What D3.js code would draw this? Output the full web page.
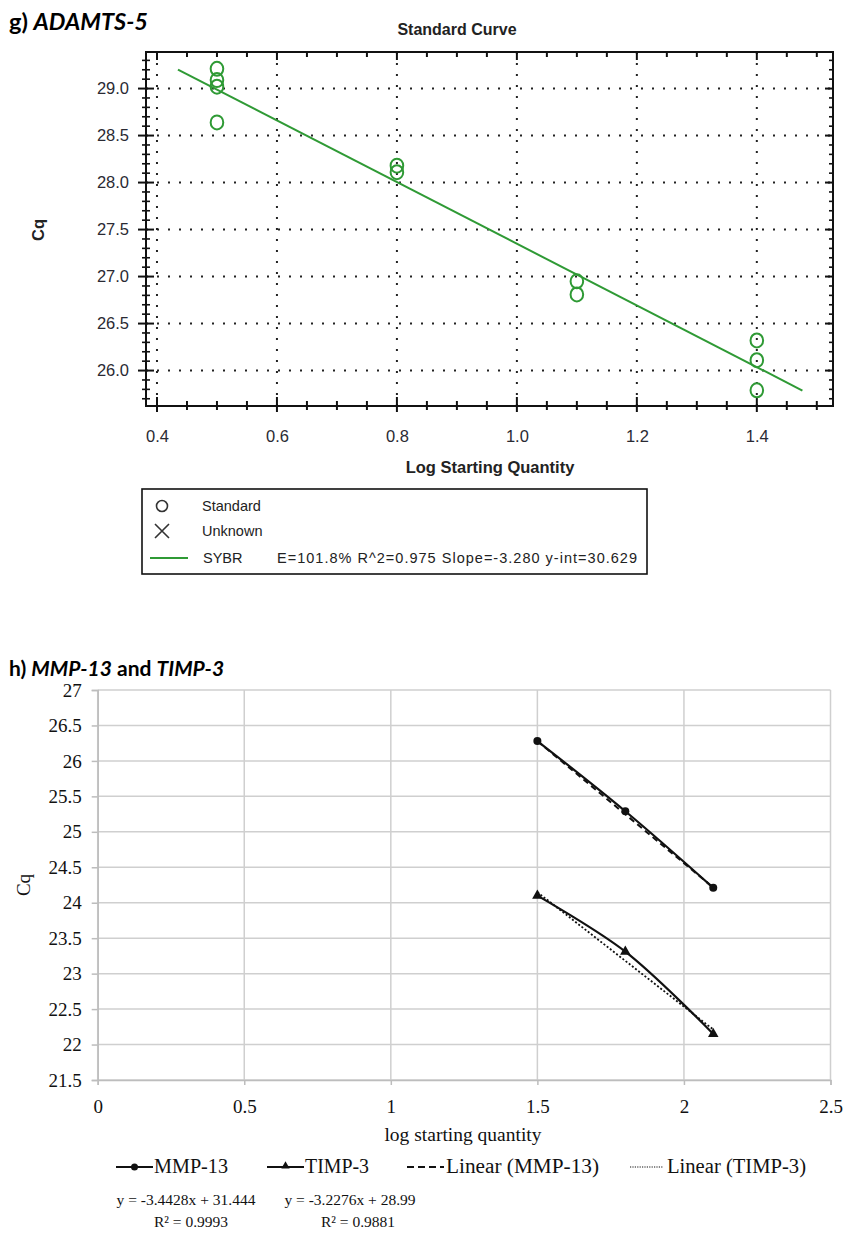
<!DOCTYPE html>
<html><head><meta charset="utf-8">
<script src="https://cdn.jsdelivr.net/npm/d3@7"></script>
<style>body{margin:0;background:#fff}svg{display:block}</style>
</head><body>
<svg id="c" width="843" height="1235"></svg>
<script>
// ---------- Panel g (ADAMTS-5) data ----------
const gStdX  = [0.5, 0.5, 0.5, 0.5, 0.8, 0.8, 1.1, 1.1, 1.4, 1.4, 1.4];
const gStdCq = [29.21, 29.09, 29.02, 28.64, 28.18, 28.11, 26.95, 26.81, 26.32, 26.11, 25.79];
const gFitSlope = -3.280;
const gFitIntercept = 30.629;
const gFitRange = [0.435, 1.476];
const gXTicks = [0.4, 0.6, 0.8, 1.0, 1.2, 1.4];
const gYTicks = [26.0, 26.5, 27.0, 27.5, 28.0, 28.5, 29.0];
const gLegendText = "E=101.8% R^2=0.975 Slope=-3.280 y-int=30.629";

// ---------- Panel h (MMP-13 / TIMP-3) data ----------
const hX      = [1.5, 1.8, 2.1];
const hMMP13  = [26.28, 25.29, 24.21];
const hTIMP3  = [24.10, 23.31, 22.15];
const hMMPSlope = -3.4428, hMMPIntercept = 31.444, hMMPR2 = "0.9993";
const hTIMPSlope = -3.2276, hTIMPIntercept = 28.99, hTIMPR2 = "0.9881";
const hXTicks = [0, 0.5, 1, 1.5, 2, 2.5];
const hYTicks = [21.5, 22, 22.5, 23, 23.5, 24, 24.5, 25, 25.5, 26, 26.5, 27];

const svg = d3.select("#c");
const GREEN = "#2f9a35";
const SANS = "'Liberation Sans', Arial, sans-serif";
const SERIF = "'Liberation Serif', 'Times New Roman', serif";
const HEAD = "Lato, 'Open Sans', sans-serif";

// ================= Panel g =================
svg.append("text").attr("x", 9).attr("y", 30)
  .style("font-family", HEAD).style("font-weight", 700).style("font-size", "23.5px")
  .call(t => { t.append("tspan").text("g) "); t.append("tspan").style("font-style", "italic").text("ADAMTS-5"); });

const gL = 146, gR = 833, gT = 52, gB = 406;
const gx = d3.scaleLinear().domain([0.3817, 1.527]).range([gL, gR]);
const gy = d3.scaleLinear().domain([25.623, 29.389]).range([gB, gT]);

svg.append("text").attr("x", 457).attr("y", 35).attr("text-anchor", "middle")
  .style("font-family", SANS).style("font-weight", 700).style("font-size", "16px").attr("fill", "#222")
  .text("Standard Curve");

const gg = svg.append("g");
// dotted grid
gg.selectAll(".vg").data(gXTicks).join("line")
  .attr("x1", d => gx(d)).attr("x2", d => gx(d)).attr("y1", gT).attr("y2", gB)
  .attr("stroke", "#222").attr("stroke-width", 2).attr("stroke-dasharray", "2,9");
gg.selectAll(".hg").data(gYTicks).join("line")
  .attr("x1", gL).attr("x2", gR).attr("y1", d => gy(d)).attr("y2", d => gy(d))
  .attr("stroke", "#222").attr("stroke-width", 2).attr("stroke-dasharray", "2,9");

// minor/major ticks
const gxMinor = d3.range(8, 31).map(i => i * 0.05);
const gyMinor = d3.range(257, 294).map(i => i * 0.1);
const isMajorX = v => gXTicks.some(t => Math.abs(t - v) < 1e-6);
const isMajorY = v => gYTicks.some(t => Math.abs(t - v) < 1e-6);
gxMinor.forEach(v => {
  const M = isMajorX(v), X = gx(v);
  gg.append("line").attr("x1", X).attr("x2", X).attr("y1", gB - (M ? 9 : 5)).attr("y2", gB + (M ? 6 : 4)).attr("stroke", "#111").attr("stroke-width", 2);
  gg.append("line").attr("x1", X).attr("x2", X).attr("y1", gT).attr("y2", gT + (M ? 8 : 5)).attr("stroke", "#111").attr("stroke-width", 2);
});
gyMinor.forEach(v => {
  const M = isMajorY(v), Y = gy(v);
  gg.append("line").attr("y1", Y).attr("y2", Y).attr("x1", gL - (M ? 8 : 4)).attr("x2", gL + (M ? 8 : 4)).attr("stroke", "#111").attr("stroke-width", M ? 2 : 1.6);
  gg.append("line").attr("y1", Y).attr("y2", Y).attr("x1", gR).attr("x2", gR - (M ? 8 : 4)).attr("stroke", "#111").attr("stroke-width", M ? 2 : 1.6);
});
gg.append("rect").attr("x", gL).attr("y", gT).attr("width", gR - gL).attr("height", gB - gT)
  .attr("fill", "none").attr("stroke", "#111").attr("stroke-width", 2);

// axis labels via d3 axes
const gxAxis = gg.append("g").attr("transform", `translate(0,${gB})`)
  .call(d3.axisBottom(gx).tickValues(gXTicks).tickFormat(d3.format(".1f")).tickSize(0).tickPadding(24));
const gyAxis = gg.append("g").attr("transform", `translate(${gL},0)`)
  .call(d3.axisLeft(gy).tickValues(gYTicks).tickFormat(d3.format(".1f")).tickSize(0).tickPadding(17));
[gxAxis, gyAxis].forEach(a => {
  a.select(".domain").remove();
  a.selectAll("text").style("font-family", SANS).style("font-size", "16.5px").attr("fill", "#2a2a33");
});

svg.append("text").attr("x", 490).attr("y", 473).attr("text-anchor", "middle")
  .style("font-family", SANS).style("font-weight", 700).style("font-size", "16.5px").attr("fill", "#222")
  .text("Log Starting Quantity");
svg.append("text").attr("transform", "translate(44,230) rotate(-90)").attr("text-anchor", "middle")
  .style("font-family", SANS).style("font-weight", 700).style("font-size", "16.5px").attr("fill", "#222")
  .text("Cq");

// fit line
gg.append("line")
  .attr("x1", gx(gFitRange[0])).attr("y1", gy(gFitIntercept + gFitSlope * gFitRange[0]))
  .attr("x2", gx(gFitRange[1])).attr("y2", gy(gFitIntercept + gFitSlope * gFitRange[1]))
  .attr("stroke", GREEN).attr("stroke-width", 2);
// points
gg.selectAll(".pt").data(gStdX.map((x, i) => [x, gStdCq[i]])).join("ellipse")
  .attr("cx", d => gx(d[0])).attr("cy", d => gy(d[1])).attr("rx", 6.3).attr("ry", 7)
  .attr("fill", "none").attr("stroke", GREEN).attr("stroke-width", 2);

// legend
const lg = svg.append("g");
lg.append("rect").attr("x", 142).attr("y", 489).attr("width", 505).attr("height", 85)
  .attr("fill", "none").attr("stroke", "#111").attr("stroke-width", 1.6);
lg.append("circle").attr("cx", 162).attr("cy", 506).attr("r", 5.5).attr("fill", "none").attr("stroke", "#333").attr("stroke-width", 1.6);
lg.append("path").attr("d", "M155,524 L169,538 M169,524 L155,538").attr("stroke", "#333").attr("stroke-width", 1.6);
lg.append("line").attr("x1", 150).attr("x2", 188).attr("y1", 558).attr("y2", 558).attr("stroke", GREEN).attr("stroke-width", 2);
const ltxt = (x, y, s) => lg.append("text").attr("x", x).attr("y", y)
  .style("font-family", SANS).style("font-size", "14.5px").attr("fill", "#222").text(s);
ltxt(202, 511, "Standard");
ltxt(202, 536, "Unknown");
ltxt(203, 563, "SYBR");
ltxt(277, 563, gLegendText).attr("textLength", 360).attr("lengthAdjust", "spacing");

// ================= Panel h =================
svg.append("text").attr("x", 9).attr("y", 676)
  .style("font-family", HEAD).style("font-weight", 700).style("font-size", "21px")
  .call(t => {
    t.append("tspan").text("h) ");
    t.append("tspan").style("font-style", "italic").text("MMP-13");
    t.append("tspan").text(" and ");
    t.append("tspan").style("font-style", "italic").text("TIMP-3");
  });

const hL = 97.7, hR = 830.5, hT = 690, hB = 1080;
const hx = d3.scaleLinear().domain([0, 2.5]).range([hL, hR]);
const hy = d3.scaleLinear().domain([21.5, 27]).range([hB, hT]);
const hg = svg.append("g");

hg.selectAll(".hgy").data(hYTicks).join("line")
  .attr("x1", hL).attr("x2", hR).attr("y1", d => hy(d)).attr("y2", d => hy(d))
  .attr("stroke", "#cfcfcf").attr("stroke-width", 1.5);
hg.selectAll(".hgx").data(hXTicks).join("line")
  .attr("x1", d => hx(d)).attr("x2", d => hx(d)).attr("y1", hT).attr("y2", hB)
  .attr("stroke", "#cfcfcf").attr("stroke-width", 1.5);

const hyAxis = hg.append("g").attr("transform", `translate(${hL},0)`)
  .call(d3.axisLeft(hy).tickValues(hYTicks).tickFormat(d => String(d)).tickSize(6).tickPadding(10));
const hxAxis = hg.append("g").attr("transform", `translate(0,${hB})`)
  .call(d3.axisBottom(hx).tickValues(hXTicks).tickFormat(d => String(d)).tickSize(5).tickPadding(15));
[hyAxis, hxAxis].forEach(a => {
  a.select(".domain").attr("stroke", "#bdbdbd").attr("stroke-width", 1.5);
  a.selectAll("line").attr("stroke", "#bdbdbd").attr("stroke-width", 1.5);
  a.selectAll("text").style("font-family", SERIF).style("font-size", "19px").attr("fill", "#111");
});

svg.append("text").attr("x", 463).attr("y", 1141).attr("text-anchor", "middle")
  .style("font-family", SERIF).style("font-size", "19.5px").attr("fill", "#111").text("log starting quantity");
svg.append("text").attr("transform", "translate(30,885) rotate(-90)").attr("text-anchor", "middle")
  .style("font-family", SERIF).style("font-size", "19px").attr("fill", "#111").text("Cq");

// trendlines
const trend = (slope, b, dash, w) => hg.append("line")
  .attr("x1", hx(hX[0])).attr("y1", hy(b + slope * hX[0]))
  .attr("x2", hx(hX[hX.length - 1])).attr("y2", hy(b + slope * hX[hX.length - 1]))
  .attr("stroke", "#111").attr("stroke-width", w).attr("stroke-dasharray", dash);

const lineGen = d3.line().x(d => hx(d[0])).y(d => hy(d[1])).curve(d3.curveCatmullRom.alpha(0.5));
const mmpPts = hX.map((x, i) => [x, hMMP13[i]]);
const timpPts = hX.map((x, i) => [x, hTIMP3[i]]);
hg.append("path").attr("d", lineGen(mmpPts)).attr("fill", "none").attr("stroke", "#111").attr("stroke-width", 2.2);
hg.append("path").attr("d", lineGen(timpPts)).attr("fill", "none").attr("stroke", "#111").attr("stroke-width", 2.2);
trend(hMMPSlope, hMMPIntercept, "6,4", 2);
trend(hTIMPSlope, hTIMPIntercept, "2,2", 1.8);

hg.selectAll(".mp").data(mmpPts).join("circle")
  .attr("cx", d => hx(d[0])).attr("cy", d => hy(d[1])).attr("r", 4).attr("fill", "#111");
const tri = d3.symbol(d3.symbolTriangle, 48);
hg.selectAll(".tp").data(timpPts).join("path")
  .attr("transform", d => `translate(${hx(d[0])},${hy(d[1])})`).attr("d", tri).attr("fill", "#111");

// legend
const hl = svg.append("g");
const ly = 1167;
const htxt = (x, s, w) => hl.append("text").attr("x", x).attr("y", ly + 6)
  .style("font-family", SERIF).style("font-size", "20px").attr("fill", "#111")
  .attr("textLength", w).attr("lengthAdjust", "spacingAndGlyphs").text(s);
hl.append("line").attr("x1", 116).attr("x2", 153).attr("y1", ly).attr("y2", ly).attr("stroke", "#111").attr("stroke-width", 2);
hl.append("circle").attr("cx", 134.5).attr("cy", ly).attr("r", 3.5).attr("fill", "#111");
htxt(154, "MMP-13", 74);
hl.append("line").attr("x1", 267).attr("x2", 304).attr("y1", ly).attr("y2", ly).attr("stroke", "#111").attr("stroke-width", 2);
hl.append("path").attr("transform", `translate(285.5,${ly - 1})`).attr("d", d3.symbol(d3.symbolTriangle, 30)).attr("fill", "#111");
htxt(305, "TIMP-3", 64);
hl.append("line").attr("x1", 407).attr("x2", 444).attr("y1", ly).attr("y2", ly).attr("stroke", "#111").attr("stroke-width", 2).attr("stroke-dasharray", "7,4");
htxt(446, "Linear (MMP-13)", 153);
hl.append("line").attr("x1", 630).attr("x2", 663).attr("y1", ly).attr("y2", ly).attr("stroke", "#111").attr("stroke-width", 1.2).attr("stroke-dasharray", "1.2,1.2");
htxt(667, "Linear (TIMP-3)", 139);

// equations
const fmtEq = (s, b) => `y = ${s}x + ${b}`;
const eq = (x, y, s) => svg.append("text").attr("x", x).attr("y", y).attr("text-anchor", "middle")
  .style("font-family", SERIF).style("font-size", "15.5px").attr("fill", "#111").text(s);
eq(186, 1205, fmtEq(hMMPSlope, hMMPIntercept));
eq(191, 1227, "R² = " + hMMPR2);
eq(350, 1205, fmtEq(hTIMPSlope, hTIMPIntercept));
eq(358, 1227, "R² = " + hTIMPR2);
</script>
</body></html>
